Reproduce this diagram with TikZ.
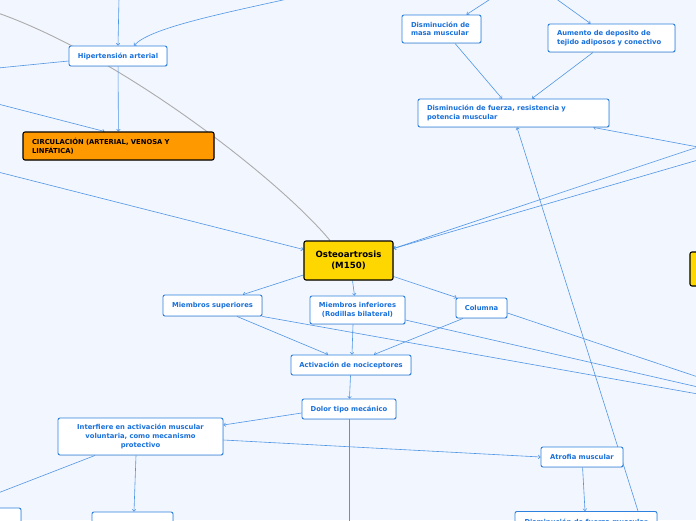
\documentclass[tikz,border=0pt]{standalone}
\usepackage{fontspec}
\newfontfamily\mapfont{DejaVu Sans}
\usetikzlibrary{arrows.meta,backgrounds,shadows}
\definecolor{paper}{RGB}{242,246,254}
\definecolor{wire}{RGB}{80,150,230}
\definecolor{rim}{RGB}{45,128,222}
\definecolor{ink}{RGB}{25,112,218}
\definecolor{amber}{RGB}{255,153,0}
\definecolor{gold}{RGB}{255,215,0}

\begin{document}
\begin{tikzpicture}[x=1pt, y=-1pt,
    box/.style = {draw=rim, fill=white, rounded corners=2pt, line width=0.9pt, text=ink, font=\mapfont\bfseries\fontsize{6.8}{8.6}\selectfont, inner xsep=6pt, inner ysep=1pt, align=center, drop shadow={shadow xshift=0.7pt, shadow yshift=-0.7pt, opacity=0.25}},
    hot/.style = {box, draw=black, line width=1.1pt, text=black},
    link/.style = {draw=wire, line width=0.6pt},
    arr/.style = {link, -{To[length=2.5pt, width=4pt]}}]
        \useasboundingbox (0,0) rectangle (696,520);

        \node [box, minimum width=98pt, minimum height=20pt] (hip) at (118,56) {Hipertensión arterial};
        \node [hot, fill=amber, inner xsep=9pt, text width=173pt, minimum height=28pt, align=left] (circ) at (118.5,146) {CIRCULACIÓN (ARTERIAL, VENOSA Y\\LINFÁTICA)};
        \node [box, inner xsep=9pt, text width=61pt, minimum height=28pt, align=left] (masa) at (441.5,29) {Disminución de\\masa muscular};
        \node [box, inner xsep=9pt, text width=109pt, minimum height=28pt, align=left] (aum) at (611.5,38) {Aumento de deposito de\\tejido adiposos y conectivo};
        \node [box, inner xsep=9pt, text width=173pt, minimum height=28pt, align=left] (fuer) at (513.5,113) {Disminución de fuerza, resistencia y\\potencia muscular};
        \node [hot, fill=gold, text width=77pt, minimum height=39pt, font=\mapfont\bfseries\fontsize{8.6}{11}\selectfont] (osteo) at (348.5,260.5) {Osteoartrosis\\(M150)};
        \node [hot, fill=gold, minimum width=50pt, minimum height=34pt] (rt) at (715,269) {};
        \node [box, minimum width=99pt, minimum height=21pt] (msup) at (212.5,305.5) {Miembros superiores};
        \node [box, text width=83pt, minimum height=28pt] (minf) at (357.5,310) {Miembros inferiores\\(Rodillas bilateral)};
        \node [box, minimum width=51pt, minimum height=20pt] (col) at (481.5,308) {Columna};
        \node [box, minimum width=120pt, minimum height=20pt] (act) at (351,365) {Activación de nociceptores};
        \node [box, minimum width=94pt, minimum height=20pt] (dolor) at (349,409) {Dolor tipo mecánico};
        \node [box, text width=153pt, minimum height=37pt] (inter) at (140.5,436.5) {Interfiere en activación muscular\\voluntaria, como mecanismo\\protectivo};
        \node [box, minimum width=82pt, minimum height=20pt] (atro) at (582,457) {Atrofia muscular};
        \node [box, minimum width=142pt, minimum height=20pt, anchor=north] (dfm) at (586,511) {Disminución de fuerza muscular};
        \node [box, minimum width=31pt, minimum height=22pt] (bl) at (5.5,519) {};
        \node [box, minimum width=81pt, minimum height=22pt] (bm) at (132.5,523) {};

        \begin{scope}[on background layer]
          \fill [paper] (0,0) rectangle (696,520);

          % ends that run off the page
          \coordinate (g0) at (-5,12);
          \coordinate (t1) at (119,-2);
          \coordinate (t2) at (292,-2);
          \coordinate (t3) at (492,-2);
          \coordinate (t4) at (555,-2);
          \coordinate (l1) at (-2,68);
          \coordinate (l2) at (-2,104);
          \coordinate (l3) at (-2,172);
          \coordinate (l4) at (-2,493);
          \coordinate (r1) at (698,147);
          \coordinate (r2) at (698,160);
          \coordinate (r3) at (698,394);
          \coordinate (r4) at (698,387);
          \coordinate (r5) at (698,377);
          \coordinate (b1) at (349,522);

          \draw [gray!65, line width=0.9pt] (g0) .. controls (120,55) and (280,180) .. ([xshift=-18.5pt]osteo.north);

          \draw [arr] (t1) -- (hip.north);
          \draw [arr] (t2) .. controls (220,14) and (150,28) .. ([xshift=16pt]hip.north);
          \draw [link] ([yshift=-5pt]hip.west) -- (l1);
          \draw [arr] (hip) -- (circ);
          \draw [arr] (l2) -- ([xshift=-14pt]circ.north);
          \draw [arr] (l3) -- ([yshift=11pt]osteo.west);

          \draw [arr] (t3) -- ([xshift=25pt]masa.north);
          \draw [arr] (t4) -- ([xshift=-21pt]aum.north);
          \draw [arr] ([xshift=13.5pt]masa.south) -- ([xshift=-11.5pt]fuer.north);
          \draw [arr] ([xshift=-18.5pt]aum.south) -- ([xshift=18.5pt]fuer.north);
          \draw [arr] (r1) -- ([xshift=-16pt]fuer.south east);
          \draw [arr] ([xshift=52pt]dfm.north) -- ([xshift=3.5pt]fuer.south);
          \foreach \n in {r1, r2}
                   {
                     \draw [arr] (\n) -- ([yshift=12pt]osteo.east);
                   }

          \draw [arr] ([yshift=-14.5pt]osteo.west) -- ([xshift=30.5pt]msup.north);
          \draw [arr] ([xshift=4pt]osteo.south) -- ([xshift=-3pt]minf.north);
          \draw [arr] ([yshift=-16pt]osteo.east) -- ([xshift=1pt]col.north west);

          \draw [arr] ([xshift=24.5pt]msup.south) -- ([xshift=-23pt]act.north);
          \draw [arr] ([xshift=-4.5pt]minf.south) -- ([xshift=1pt]act.north);
          \draw [arr] ([xshift=-18.5pt]col.south) -- ([xshift=23pt]act.north);
          \draw [link] (msup.south east) -- (r3);
          \draw [link] ([yshift=-10pt]minf.east) -- (r4);
          \draw [link] ([yshift=-5pt]col.east) -- (r5);

          \draw [arr] (act) -- (dolor);
          \draw [arr] ([yshift=-4pt]dolor.west) -- ([yshift=11.5pt]inter.east);
          \draw [link] (dolor.south) -- (b1);
          \draw [arr] ([yshift=-3.5pt]inter.east) -- (atro.west);
          \draw [link] ([xshift=-45.5pt]inter.south) -- (l4);
          \draw [arr] ([xshift=-4.5pt]inter.south) -- ([xshift=1.5pt]bm.north);
          \draw [arr] (atro) -- ([xshift=-1pt]dfm.north);
        \end{scope}
\end{tikzpicture}
\end{document}
